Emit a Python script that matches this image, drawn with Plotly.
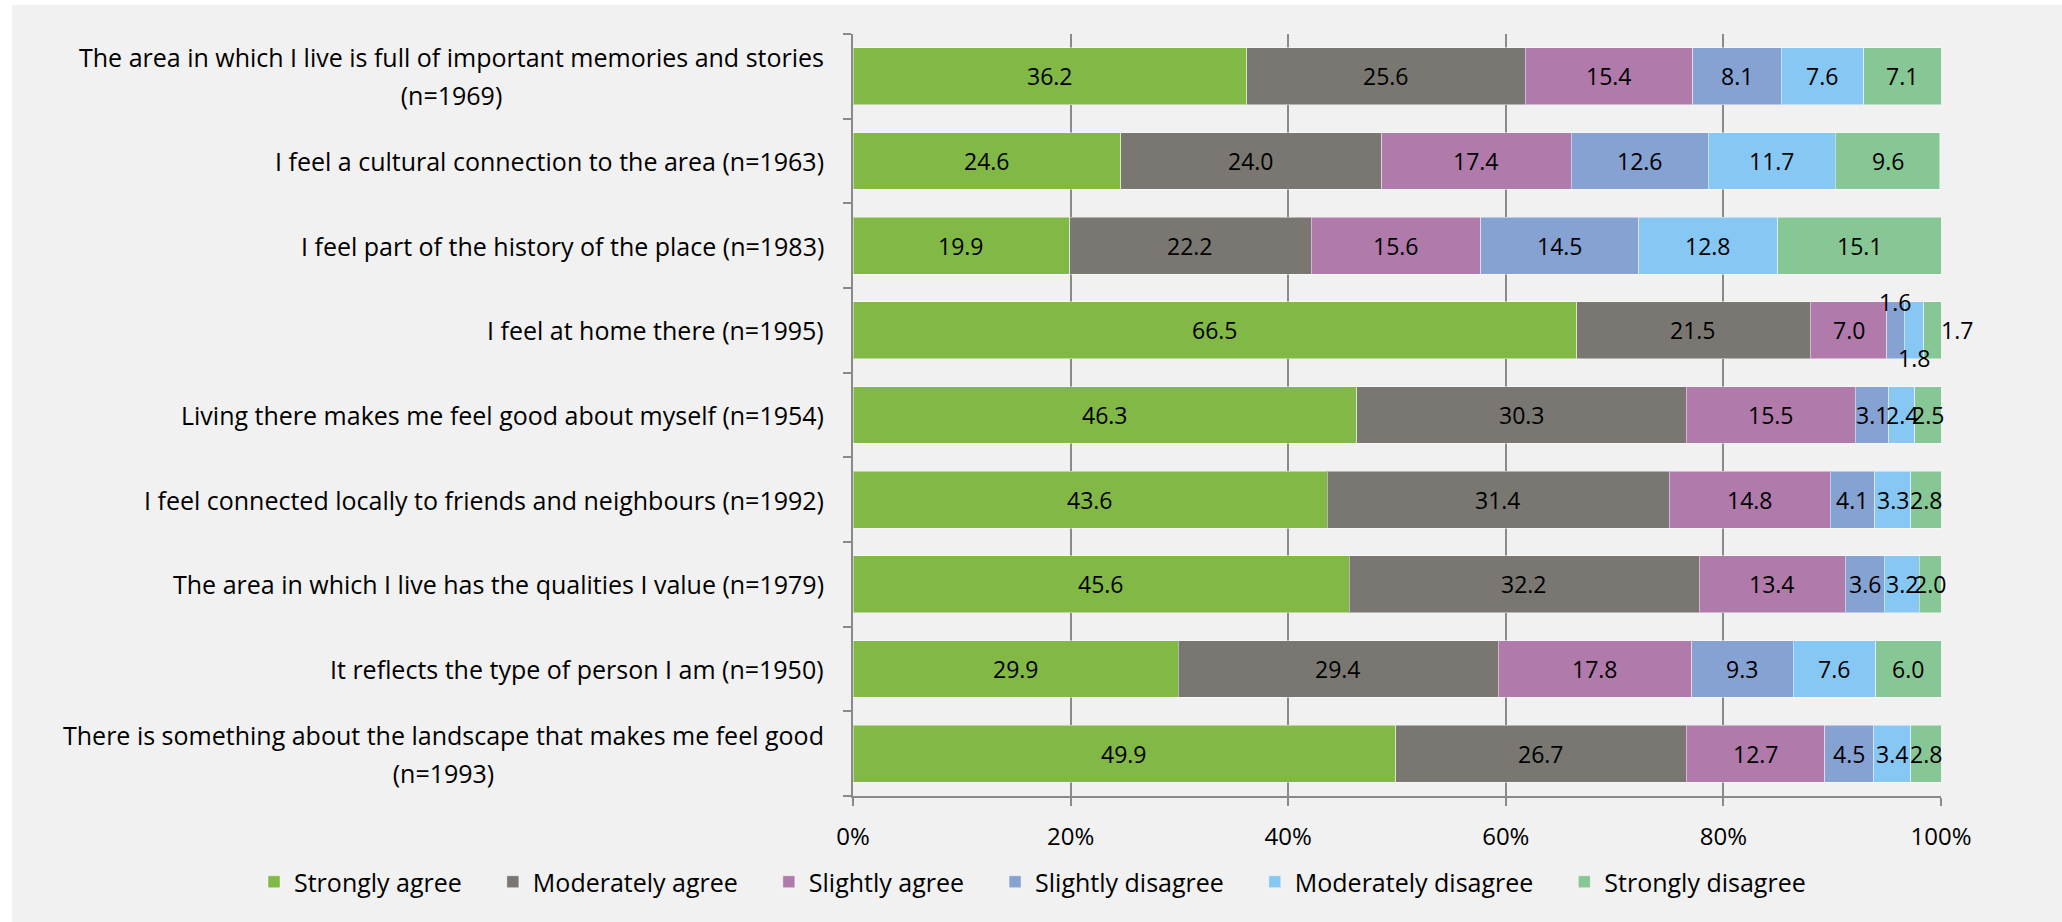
import plotly.graph_objects as go

# Survey statements (top to bottom) with response counts; "|" marks a line break
statements = [
    "The area in which I live is full of important memories and stories|(n=1969)",
    "I feel a cultural connection to the area (n=1963)",
    "I feel part of the history of the place (n=1983)",
    "I feel at home there (n=1995)",
    "Living there makes me feel good about myself (n=1954)",
    "I feel connected locally to friends and neighbours (n=1992)",
    "The area in which I live has the qualities I value (n=1979)",
    "It reflects the type of person I am (n=1950)",
    "There is something about the landscape that makes me feel good|(n=1993)",
]

responses = [
    "Strongly agree",
    "Moderately agree",
    "Slightly agree",
    "Slightly disagree",
    "Moderately disagree",
    "Strongly disagree",
]

strongly_agree = [36.2, 24.6, 19.9, 66.5, 46.3, 43.6, 45.6, 29.9, 49.9]
moderately_agree = [25.6, 24.0, 22.2, 21.5, 30.3, 31.4, 32.2, 29.4, 26.7]
slightly_agree = [15.4, 17.4, 15.6, 7.0, 15.5, 14.8, 13.4, 17.8, 12.7]
slightly_disagree = [8.1, 12.6, 14.5, 1.6, 3.1, 4.1, 3.6, 9.3, 4.5]
moderately_disagree = [7.6, 11.7, 12.8, 1.8, 2.4, 3.3, 3.2, 7.6, 3.4]
strongly_disagree = [7.1, 9.6, 15.1, 1.7, 2.5, 2.8, 2.0, 6.0, 2.8]

series = [strongly_agree, moderately_agree, slightly_agree,
          slightly_disagree, moderately_disagree, strongly_disagree]

colors = ["#82b846", "#7a7772", "#b07aab", "#86a2d2", "#87c7f3", "#86c795"]

x_ticks = [0, 20, 40, 60, 80, 100]
x_tick_labels = ["0%", "20%", "40%", "60%", "80%", "100%"]

FONT = "Open Sans"
BG = "#f0f1f0"
X_MAX = 100

cats = list(range(len(statements)))

fig = go.Figure()
for name, vals, col in zip(responses, series, colors):
    fig.add_trace(go.Bar(
        y=cats, x=vals, orientation="h",
        name=name + "&nbsp;&nbsp;&nbsp;&nbsp;",
        marker=dict(color=col, line=dict(color="rgba(255,255,255,0.45)", width=1)),
        hovertemplate=name + ": %{x:.1f}<extra></extra>",
    ))

annotations = []

# Value labels, centred on each segment (a few small ones nudged aside)
nudges = {
    (3, 3): dict(yshift=28),
    (3, 4): dict(yshift=-28),
    (3, 5): "right",
}
label_font = dict(family=FONT, size=23, color="#000")
for i in cats:
    start = 0.0
    for s, vals in enumerate(series):
        v = vals[i]
        mid = start + v / 2
        end = start + v
        start = end
        spec = nudges.get((i, s))
        ann = dict(x=mid, y=i, xref="x", yref="y", text=f"{v:.1f}",
                   showarrow=False, font=label_font)
        if spec == "right":
            # sits past the end of the bar, outside the axis range
            ann.update(x=end / X_MAX, xref="paper", xanchor="left", xshift=-3)
        elif isinstance(spec, dict):
            ann.update(spec)
        annotations.append(ann)

# Category labels: centred lines, right edge next to the axis.
# The outer font size sets the line pitch, the inner span the glyph size.
for i, label in enumerate(statements):
    text = "<br>".join(f"<span style='font-size:25px'>{ln}</span>"
                       for ln in label.split("|"))
    annotations.append(dict(x=-0.025, y=i, xref="paper", yref="y", text=text,
                            xanchor="right", align="center", showarrow=False,
                            font=dict(family=FONT, size=29, color="#000")))

fig.update_layout(
    barmode="stack",
    bargap=0.327,
    width=2062, height=922,
    margin=dict(l=853, r=121, t=34, b=126, pad=0),
    paper_bgcolor="white",
    plot_bgcolor=BG,
    annotations=annotations,
    showlegend=True,
    legend=dict(orientation="h", xref="paper", x=(254 - 853) / 1088, xanchor="left",
                yref="paper", y=(796 - 882) / 762, yanchor="middle",
                font=dict(family=FONT, size=25, color="#000"),
                bgcolor="rgba(0,0,0,0)", traceorder="normal",
                itemwidth=30, itemclick=False, itemdoubleclick=False),
    shapes=[dict(type="rect", xref="paper", yref="paper",
                 x0=(12 - 853) / 1088, x1=(2062 - 853) / 1088 + 0.01,
                 y0=-(922 - 796) / 762 - 0.01, y1=1 + (34 - 5) / 762,
                 fillcolor=BG, line=dict(width=0), layer="below")],
)

fig.update_xaxes(
    range=[0, X_MAX], tickvals=x_ticks, ticktext=x_tick_labels,
    showgrid=True, gridcolor="#8a8a8a", gridwidth=2,
    showline=True, linecolor="#8a8a8a", linewidth=2,
    ticks="outside", ticklen=8, tickcolor="#8a8a8a", tickwidth=2,
    ticklabelstandoff=10,
    tickfont=dict(family=FONT, size=24, color="#000"),
    zeroline=False, fixedrange=True,
)
fig.update_yaxes(
    range=[len(statements) - 0.5, -0.5],
    tickvals=[c + 0.5 for c in cats] + [-0.5], ticktext=[""] * (len(cats) + 1),
    showgrid=False, showline=True, linecolor="#8a8a8a", linewidth=2,
    ticks="outside", ticklen=8, tickcolor="#8a8a8a", tickwidth=2,
    zeroline=False, fixedrange=True,
)

fig.write_html("out.html")
